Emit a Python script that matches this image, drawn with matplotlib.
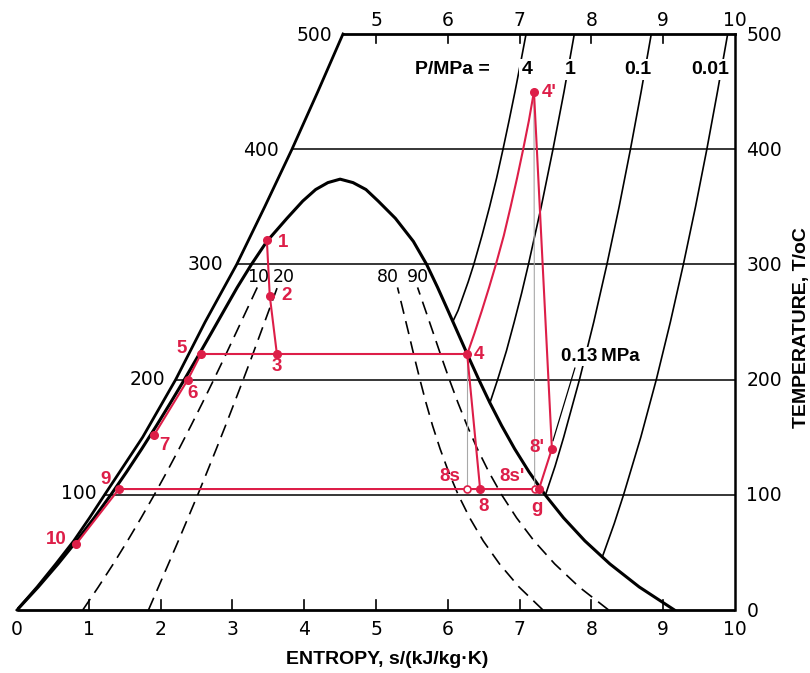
import matplotlib
matplotlib.use('Agg')
import matplotlib.pyplot as plt
import numpy as np

# ---------------- data ----------------
# saturation dome
T_sat = [0, 20, 40, 60, 80, 100, 120, 140, 160, 180, 200, 220, 240, 260, 280, 300, 320, 340, 355, 365, 371, 374]
s_liq = [0, 0.296, 0.572, 0.831, 1.075, 1.307, 1.528, 1.739, 1.942, 2.139, 2.331, 2.518, 2.702, 2.884, 3.067,
         3.265, 3.48, 3.76, 3.98, 4.16, 4.33, 4.50]
s_vap = [9.156, 8.666, 8.257, 7.909, 7.612, 7.355, 7.130, 6.930, 6.750, 6.585, 6.432, 6.286, 6.144, 6.002, 5.858,
         5.705, 5.52, 5.27, 5.03, 4.86, 4.68, 4.50]

# outer (left) boundary of the chart
T_bound = [0, 20, 40, 60, 80, 100, 150, 200, 250, 300, 350, 400, 450, 500]
s_bound = [0, 0.28, 0.54, 0.79, 1.01, 1.22, 1.75, 2.21, 2.62, 3.06, 3.45, 3.83, 4.19, 4.54]

# constant-quality lines (dashed)
T_q = [0, 20, 40, 60, 80, 100, 120, 140, 160, 180, 200, 220, 240, 260, 280]
s_q10 = [0.916, 1.133, 1.341, 1.539, 1.729, 1.912, 2.088, 2.258, 2.423, 2.584, 2.741, 2.895, 3.046, 3.196, 3.346]
s_q20 = [1.831, 1.970, 2.109, 2.247, 2.382, 2.517, 2.648, 2.777, 2.904, 3.028, 3.151, 3.272, 3.390, 3.508, 3.625]
s_q80 = [7.325, 6.992, 6.720, 6.493, 6.305, 6.145, 6.010, 5.892, 5.788, 5.696, 5.612, 5.532, 5.456, 5.378, 5.300]
s_q90 = [8.240, 7.829, 7.489, 7.201, 6.958, 6.750, 6.570, 6.411, 6.269, 6.141, 6.022, 5.909, 5.800, 5.690, 5.579]
quality_labels = ['10', '20', '80', '90']

# isobars in the superheated region
T_p4 = [250.4, 260, 275, 285, 300, 325, 350, 375, 400, 425, 450, 475, 500]
s_p4 = [6.070, 6.143, 6.228, 6.285, 6.362, 6.476, 6.582, 6.680, 6.769, 6.854, 6.936, 7.014, 7.090]
T_p1 = [179.9, 200, 225, 250, 275, 300, 350, 400, 450, 500]
s_p1 = [6.587, 6.694, 6.817, 6.925, 7.028, 7.123, 7.301, 7.465, 7.619, 7.762]
T_p01 = [99.6, 125, 150, 200, 250, 300, 350, 400, 450, 500]
s_p01 = [7.359, 7.495, 7.614, 7.834, 8.033, 8.216, 8.386, 8.544, 8.693, 8.834]
T_p001 = [45.8, 50, 75, 100, 150, 200, 250, 300, 350, 400, 450, 500]
s_p001 = [8.150, 8.175, 8.318, 8.448, 8.688, 8.904, 9.100, 9.281, 9.450, 9.608, 9.756, 9.898]
pressure_labels = ['4', '1', '0.1', '0.01']

# isotherms
isotherms = [100, 200, 300, 400]

# cycle state points (s, T)
pts = {
    '1': (3.48, 321), '2': (3.52, 273), '3': (3.62, 222), '4': (6.27, 222),
    "4'": (7.20, 450), '5': (2.56, 222), '6': (2.38, 200), '7': (1.91, 152),
    "8'": (7.45, 140), '8s': (6.27, 105), '8': (6.45, 105), "8s'": (7.21, 105),
    'g': (7.27, 105), '9': (1.42, 105), '10': (0.82, 57),
}
# superheating path 4 -> 4'
T_sh = [222, 240, 260, 280, 300, 325, 350, 375, 400, 425, 450]
s_sh = [6.27, 6.37, 6.475, 6.575, 6.67, 6.78, 6.875, 6.965, 7.05, 7.13, 7.20]

bottom_ticks = [0, 1, 2, 3, 4, 5, 6, 7, 8, 9, 10]
top_ticks = [5, 6, 7, 8, 9, 10]
T_ticks = [0, 100, 200, 300, 400, 500]

# ---------------- figure ----------------
RED = '#dd1e48'
NUMFONT = 'DejaVu Sans'
BOLDFONT = 'Liberation Sans'
NUMSIZE = 13.5

fig = plt.figure(figsize=(8.1, 6.73), dpi=100)
ax = fig.add_axes([17 / 810, 63 / 673, 718 / 810, 576 / 673])
ax.set_xlim(0, 10)
ax.set_ylim(0, 500)
ax.axis('off')

# frame
ax.plot([0, 10], [0, 0], color='k', lw=2.0, solid_capstyle='butt', clip_on=False)
ax.plot([10, 10], [0, 500], color='k', lw=1.8, clip_on=False)
ax.plot([s_bound[-1], 10], [500, 500], color='k', lw=2.0, clip_on=False)
ax.plot(s_bound, T_bound, color='k', lw=2.0, clip_on=False)

# ticks
for s in bottom_ticks[1:-1]:
    ax.plot([s, s], [0, 8.5], color='k', lw=1.2)
for s in top_ticks[:-1]:
    ax.plot([s, s], [500, 492], color='k', lw=1.2)
for s in bottom_ticks:
    ax.text(s, -16.5, str(s), ha='center', va='center', fontsize=NUMSIZE, family=NUMFONT, clip_on=False)
for s in top_ticks:
    ax.text(s, 512, str(s), ha='center', va='center', fontsize=NUMSIZE, family=NUMFONT, clip_on=False)

# isotherms
for T in isotherms:
    s0 = np.interp(T, T_bound, s_bound)
    ax.plot([s0, 10], [T, T], color='k', lw=1.1)

# temperature labels (left, along the boundary) and right
left_lab_pos = {100: (0.86, 101), 200: (1.82, 200), 300: (2.63, 300), 400: (3.40, 399), 500: (4.14, 499)}
for T, (s, y) in left_lab_pos.items():
    ax.text(s, y, str(T), ha='center', va='center', fontsize=NUMSIZE, family=NUMFONT, clip_on=False)
for T in T_ticks:
    ax.text(10.16, T - 1, str(T), ha='left', va='center', fontsize=NUMSIZE, family=NUMFONT, clip_on=False)

# saturation dome
dome_s = list(s_liq) + list(s_vap[::-1])
dome_T = list(T_sat) + list(T_sat[::-1])
ax.plot(dome_s, dome_T, color='k', lw=2.2, solid_joinstyle='round')

# quality lines
for sq in (s_q10, s_q20, s_q80, s_q90):
    ax.plot(sq, T_q, color='k', lw=1.2, linestyle=(0, (8, 4.5)))
for lab, s in zip(quality_labels, [3.36, 3.71, 5.17, 5.59]):
    ax.text(s, 289, lab, ha='center', va='center', fontsize=12.5, family=NUMFONT)

# isobars
for ss, tt in ((s_p4, T_p4), (s_p1, T_p1), (s_p01, T_p01), (s_p001, T_p001)):
    ax.plot(ss, tt, color='k', lw=1.2)

lab_kw = dict(ha='center', va='center', fontsize=14, family=BOLDFONT, fontweight='bold',
              bbox=dict(facecolor='white', edgecolor='none', pad=1.5))
ax.text(6.06, 469, 'P/MPa =', **lab_kw)
for lab, s in zip(pressure_labels, [7.10, 7.70, 8.65, 9.66]):
    ax.text(s, 469, lab, **lab_kw)

# 0.13 MPa annotation
ax.plot([7.77, 7.465], [210, 147], color='k', lw=0.9)
ax.text(8.13, 220, '0.13\u2009MPa', ha='center', va='center', fontsize=13.5, family=[BOLDFONT, 'DejaVu Sans'],
        fontweight='bold', bbox=dict(facecolor='white', edgecolor='none', pad=1.0))

# grey construction lines
ax.plot([pts['4'][0], pts['8s'][0]], [pts['4'][1], pts['8s'][1]], color='#a8a8a8', lw=0.8)
ax.plot([pts["4'"][0], pts["8s'"][0]], [pts["4'"][1], pts["8s'"][1]], color='#a8a8a8', lw=0.8)

# cycle (red)
def seg(*names):
    ax.plot([pts[n][0] for n in names], [pts[n][1] for n in names], color=RED, lw=1.5,
            solid_joinstyle='round')

seg('1', '2', '3')
seg('5', '3', '4')
seg('5', '6', '7')
seg('10', '9', 'g')
seg('4', '8')
seg("4'", "8'", 'g')
ax.plot(s_sh, T_sh, color=RED, lw=1.5)

for n, (s, T) in pts.items():
    if n in ('8s', "8s'"):
        ax.plot(s, T, 'o', ms=5, mfc='white', mec=RED, mew=1.2, zorder=5)
    else:
        ax.plot(s, T, 'o', ms=5.5, color=RED, zorder=5)

red_lab = {
    '1': (3.70, 319), '2': (3.75, 273), '3': (3.62, 211), '5': (2.29, 227), '6': (2.44, 188),
    '7': (2.05, 143), '9': (1.23, 113), '10': (0.55, 61.5), '4': (6.43, 222), "4'": (7.41, 449),
    "8'": (7.24, 141), '8s': (6.03, 116), "8s'": (6.89, 116), '8': (6.50, 90), 'g': (7.24, 89),
}
for n, (s, T) in red_lab.items():
    ax.text(s, T, n, ha='center', va='center', color=RED, fontsize=13.5, family=BOLDFONT, fontweight='bold')

# axis titles
ax.text(5.15, -43, 'ENTROPY, s/(kJ/kg\u00b7K)', ha='center', va='center', fontsize=14,
        family=BOLDFONT, fontweight='bold', clip_on=False)
ax.text(10.93, 245, 'TEMPERATURE, T/oC', ha='center', va='center', rotation=90, fontsize=14,
        family=BOLDFONT, fontweight='bold', clip_on=False)

fig.savefig('out.png', dpi=100)
